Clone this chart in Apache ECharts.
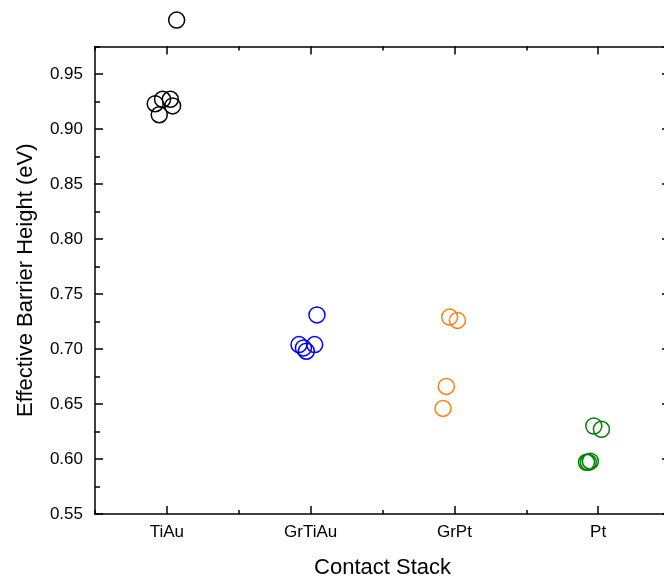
<!DOCTYPE html>
<html>
<head>
<meta charset="utf-8">
<title>Effective Barrier Height by Contact Stack</title>
<script src="https://cdn.jsdelivr.net/npm/echarts@6/dist/echarts.min.js"></script>
<style>
  html, body { margin: 0; padding: 0; background: #ffffff; }
  #chart { width: 664px; height: 581px; }
</style>
</head>
<body>
<div id="chart"></div>
<script>
// Contact stacks along the x axis
const categories = ['TiAu', 'GrTiAu', 'GrPt', 'Pt'];

// Per-device horizontal spread within each column (fraction of a column)
const tiAuSpread   = [-0.081, -0.030, 0.024, 0.040, -0.053, 0.068];
const grTiAuSpread = [0.044, -0.081, -0.050, -0.030, 0.028];
const grPtSpread   = [-0.033, 0.021, -0.056, -0.079];
const ptSpread     = [-0.030, 0.023, -0.081, -0.068, -0.054];

// Effective barrier heights (eV)
const tiAuHeights   = [0.923, 0.927, 0.927, 0.921, 0.913, 0.999];
const grTiAuHeights = [0.731, 0.704, 0.701, 0.698, 0.704];
const grPtHeights   = [0.729, 0.726, 0.666, 0.646];
const ptHeights     = [0.630, 0.627, 0.597, 0.597, 0.598];

// Y-axis range and ticks
const yMin = 0.55, yMax = 0.975, yMajor = 0.05, yMinor = 0.025;

const seriesColors = ['#000000', '#0000ff', '#ff7f0e', '#008000'];
const FONT = 'Liberation Sans, Arial, sans-serif';

function points(index, spread, heights) {
  return heights.map((h, i) => [index + spread[i], h]);
}

const groups = [
  points(0, tiAuSpread, tiAuHeights),
  points(1, grTiAuSpread, grTiAuHeights),
  points(2, grPtSpread, grPtHeights),
  points(3, ptSpread, ptHeights)
];

const lineStyle = { color: '#000', width: 1.5 };

// Value axis carrying the data plus the short half-step ticks
function minorX(position) {
  return {
    type: 'value', position: position, gridIndex: 0,
    min: -0.5, max: categories.length - 0.5, interval: 0.5,
    axisLine: { show: true, onZero: false, lineStyle: lineStyle },
    axisTick: { show: true, inside: true, length: 4, lineStyle: lineStyle },
    axisLabel: { show: false },
    splitLine: { show: false }
  };
}
// Category axis drawing the long ticks and the stack names
function majorX(position, labels) {
  return {
    type: 'category', position: position, gridIndex: 0,
    data: categories, boundaryGap: true,
    axisLine: { show: false, onZero: false },
    axisTick: { show: true, inside: true, alignWithLabel: true, length: 8, lineStyle: lineStyle },
    axisLabel: { show: labels, color: '#000', fontFamily: FONT, fontSize: 17, margin: 10 },
    splitLine: { show: false }
  };
}
function minorY(position) {
  return {
    type: 'value', position: position, gridIndex: 0,
    min: yMin, max: yMax, interval: yMinor,
    axisLine: { show: true, onZero: false, lineStyle: lineStyle },
    axisTick: { show: true, inside: true, length: 5, lineStyle: lineStyle },
    axisLabel: { show: false },
    splitLine: { show: false }
  };
}
function majorY(position, labels) {
  return {
    type: 'value', position: position, gridIndex: 0,
    min: yMin, max: yMax, interval: yMajor,
    axisLine: { show: false, onZero: false },
    axisTick: { show: true, inside: true, length: 8, lineStyle: lineStyle },
    axisLabel: {
      show: labels, color: '#000', fontFamily: FONT, fontSize: 17, margin: 12,
      showMaxLabel: false,
      formatter: v => v.toFixed(2)
    },
    splitLine: { show: false }
  };
}

const xMainLabels = majorX('bottom', true);
xMainLabels.name = 'Contact Stack';
xMainLabels.nameLocation = 'middle';
xMainLabels.nameGap = 43;
xMainLabels.nameTextStyle = { color: '#000', fontFamily: FONT, fontSize: 22 };

const yMainLabels = majorY('left', true);
yMainLabels.name = 'Effective Barrier Height (eV)';
yMainLabels.nameLocation = 'middle';
yMainLabels.nameGap = 58;
yMainLabels.nameTextStyle = { color: '#000', fontFamily: FONT, fontSize: 22 };

const chart = echarts.init(document.getElementById('chart'), null, { renderer: 'canvas' });
chart.setOption({
  animation: false,
  backgroundColor: '#ffffff',
  grid: {
    left: 95, top: 46.5, width: 575, height: 467.5,
    containLabel: false, outerBoundsMode: 'none'
  },
  xAxis: [minorX('bottom'), xMainLabels, minorX('top'), majorX('top', false)],
  yAxis: [minorY('left'), yMainLabels, minorY('right'), majorY('right', false)],
  series: groups.map((data, i) => ({
    name: categories[i],
    type: 'scatter',
    xAxisIndex: 0,
    yAxisIndex: 0,
    data: data,
    clip: false,
    symbol: 'circle',
    symbolSize: 16,
    itemStyle: { color: 'rgba(255,255,255,0)', borderColor: seriesColors[i], borderWidth: 1.5, opacity: 1 },
    emphasis: { disabled: true }
  }))
});
</script>
</body>
</html>
